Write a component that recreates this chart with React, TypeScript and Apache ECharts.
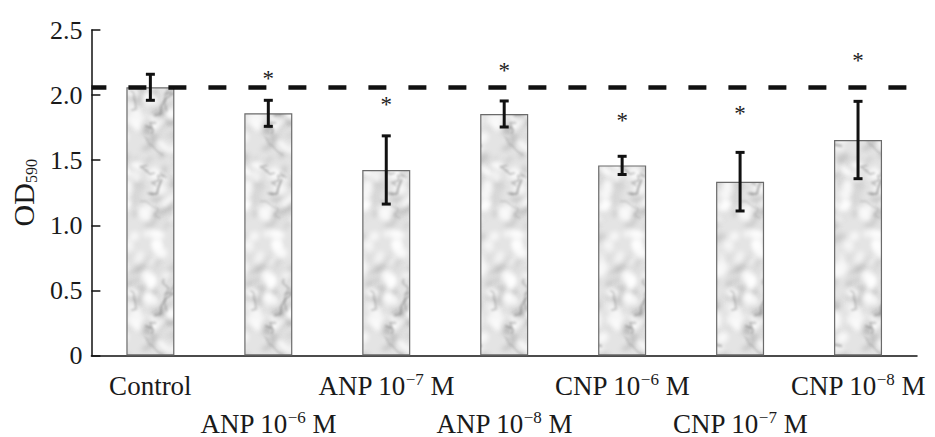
import React, { useEffect, useRef } from "react";
import * as echarts from "echarts";

const categories = ["Control", "ANP 10−6 M", "ANP 10−7 M", "ANP 10−8 M", "CNP 10−6 M", "CNP 10−7 M", "CNP 10−8 M"];
const means = [2.06, 1.86, 1.425, 1.855, 1.46, 1.335, 1.655];
const errors = [0.1, 0.1, 0.262, 0.1, 0.07, 0.225, 0.297];
const starLevels = [null, 2.16, 1.955, 2.22, 1.835, 1.89, 2.3];
const controlLevel = 2.06;
const yTicks = { min: 0, max: 2.5, interval: 0.5 };

const FONT = "'Liberation Serif', 'Times New Roman', serif";

function makeMarble(): HTMLCanvasElement {
  const c = document.createElement("canvas");
  const W = 120;
  const H = 200;
  c.width = W;
  c.height = H;
  const ctx = c.getContext("2d")!;
  let s = 987654;
  const rnd = () => {
    s = (s * 1103515245 + 12345) % 2147483648;
    return s / 2147483648;
  };
  const wrap = (fn: () => void) => {
    for (const dx of [-W, 0, W]) {
      for (const dy of [-H, 0, H]) {
        ctx.save();
        ctx.translate(dx, dy);
        fn();
        ctx.restore();
      }
    }
  };
  ctx.fillStyle = "#e4e4e4";
  ctx.fillRect(0, 0, W, H);
  ctx.filter = "blur(2.5px)";
  for (let i = 0; i < 150; i++) {
    const g = 140 + Math.floor(rnd() * 70);
    const col = `rgba(${g},${g},${g},${0.25 + rnd() * 0.3})`;
    const x = rnd() * W, y = rnd() * H;
    const rx = 3 + rnd() * 8, ry = 1.5 + rnd() * 3, rot = -0.6 + (rnd() - 0.5) * 0.6;
    wrap(() => {
      ctx.fillStyle = col;
      ctx.beginPath();
      ctx.ellipse(x, y, rx, ry, rot, 0, Math.PI * 2);
      ctx.fill();
    });
  }
  for (let i = 0; i < 80; i++) {
    const col = `rgba(255,255,255,${0.55 + rnd() * 0.4})`;
    const x = rnd() * W, y = rnd() * H;
    const rx = 3 + rnd() * 7, ry = 2 + rnd() * 6, rot = rnd() * 3;
    wrap(() => {
      ctx.fillStyle = col;
      ctx.beginPath();
      ctx.ellipse(x, y, rx, ry, rot, 0, Math.PI * 2);
      ctx.fill();
    });
  }
  ctx.filter = "blur(1px)";
  for (let i = 0; i < 22; i++) {
    const pts: number[][] = [];
    let x = rnd() * W;
    let y = rnd() * H;
    pts.push([x, y]);
    for (let k = 0; k < 5; k++) {
      x += (rnd() - 0.5) * 16;
      y += (rnd() - 0.2) * 12;
      pts.push([x, y]);
    }
    const col = `rgba(120,120,120,${0.3 + rnd() * 0.3})`;
    const lw = 1.2 + rnd() * 1.2;
    wrap(() => {
      ctx.strokeStyle = col;
      ctx.lineWidth = lw;
      ctx.beginPath();
      ctx.moveTo(pts[0][0], pts[0][1]);
      for (let k = 1; k < pts.length; k++) ctx.lineTo(pts[k][0], pts[k][1]);
      ctx.stroke();
    });
  }
  return c;
}

function labelRich(text: string, idx: number): string {
  const m = text.match(/^(.*10)(−\d)( M)$/);
  const pre = idx % 2 === 1 ? "{sp| }\n" : "";
  if (!m) return pre + `{n|${text}}`;
  return pre + `{n|${m[1]}}{s|${m[2]}}{n|${m[3]}}`;
}

export default function App() {
  const ref = useRef<HTMLDivElement>(null);
  useEffect(() => {
    if (!ref.current) return;
    const chart = echarts.init(ref.current, undefined, { renderer: "svg" });
    const marble = makeMarble();
    const option: any = {
      animation: false,
      grid: { left: 81, right: 18, top: 30, bottom: 81, containLabel: false },
      xAxis: {
        type: "category",
        data: categories,
        axisLine: { lineStyle: { color: "#111", width: 1.5 } },
        axisTick: { inside: true, length: 9, lineStyle: { color: "#111", width: 1.5 } },
        axisLabel: {
          interval: 0,
          margin: 15,
          color: "#1a1a1a",
          fontFamily: FONT,
          formatter: (v: string, i: number) => labelRich(v, i),
          rich: {
            n: { fontFamily: FONT, fontSize: 27, lineHeight: 30, color: "#1a1a1a" },
            s: { fontFamily: FONT, fontSize: 17, lineHeight: 17, verticalAlign: "top", color: "#1a1a1a" },
            sp: { fontSize: 10, lineHeight: 38 },
          },
        },
      },
      yAxis: {
        type: "value",
        min: yTicks.min,
        max: yTicks.max,
        interval: yTicks.interval,
        splitLine: { show: false },
        axisLine: { show: true, lineStyle: { color: "#111", width: 1.5 } },
        axisTick: { show: true, inside: true, length: 9, lineStyle: { color: "#111", width: 1.5 } },
        axisLabel: {
          margin: 9,
          color: "#1a1a1a",
          fontFamily: FONT,
          fontSize: 26,
          formatter: (v: number) => (v === 0 ? "0" : v.toFixed(1)),
        },
        name: "{a|OD}{b|590}",
        nameLocation: "middle",
        nameRotate: 90,
        nameGap: 32,
        nameTextStyle: {
          rich: {
            a: { fontFamily: FONT, fontSize: 30, lineHeight: 32, color: "#1a1a1a" },
            b: { fontFamily: FONT, fontSize: 16, lineHeight: 16, verticalAlign: "bottom", color: "#1a1a1a" },
          },
        },
      },
      series: [
        {
          type: "line",
          data: [],
          z: 1,
          silent: true,
          markLine: {
            symbol: "none",
            silent: true,
            label: { show: false },
            lineStyle: { color: "#111", width: 4.5, type: [18, 22], dashOffset: 3 },
            data: [{ yAxis: controlLevel }],
          },
        },
        {
          type: "bar",
          data: means,
          barWidth: 48,
          z: 2,
          itemStyle: {
            color: { image: marble, repeat: "repeat" },
            borderColor: "#6a6a6a",
            borderWidth: 1.2,
          },
        },
        {
          type: "custom",
          z: 3,
          data: means.map((m, i) => [i, m - errors[i], m + errors[i]]),
          renderItem: (params: any, api: any) => {
            const i = api.value(0);
            const lo = api.coord([i, api.value(1)]);
            const hi = api.coord([i, api.value(2)]);
            const hw = 4.5;
            const st = { stroke: "#111", lineWidth: 3 };
            return {
              type: "group",
              children: [
                { type: "line", shape: { x1: lo[0], y1: lo[1], x2: hi[0], y2: hi[1] }, style: st },
                { type: "line", shape: { x1: lo[0] - hw, y1: lo[1], x2: lo[0] + hw, y2: lo[1] }, style: st },
                { type: "line", shape: { x1: hi[0] - hw, y1: hi[1], x2: hi[0] + hw, y2: hi[1] }, style: st },
              ],
            };
          },
        },
        {
          type: "custom",
          z: 4,
          data: starLevels.map((v, i) => [i, v == null ? NaN : v]),
          renderItem: (params: any, api: any) => {
            const v = api.value(1);
            if (v == null || isNaN(v)) return null;
            const p = api.coord([api.value(0), v]);
            return {
              type: "text",
              x: p[0],
              y: p[1] + 4,
              style: {
                text: "*",
                fill: "#222",
                font: `23px ${FONT}`,
                align: "center",
                verticalAlign: "middle",
              },
            };
          },
        },
      ],
    };
    chart.setOption(option);
    return () => chart.dispose();
  }, []);
  return <div ref={ref} style={{ position: "absolute", left: 0, top: 0, width: 935, height: 437 }} />;
}
